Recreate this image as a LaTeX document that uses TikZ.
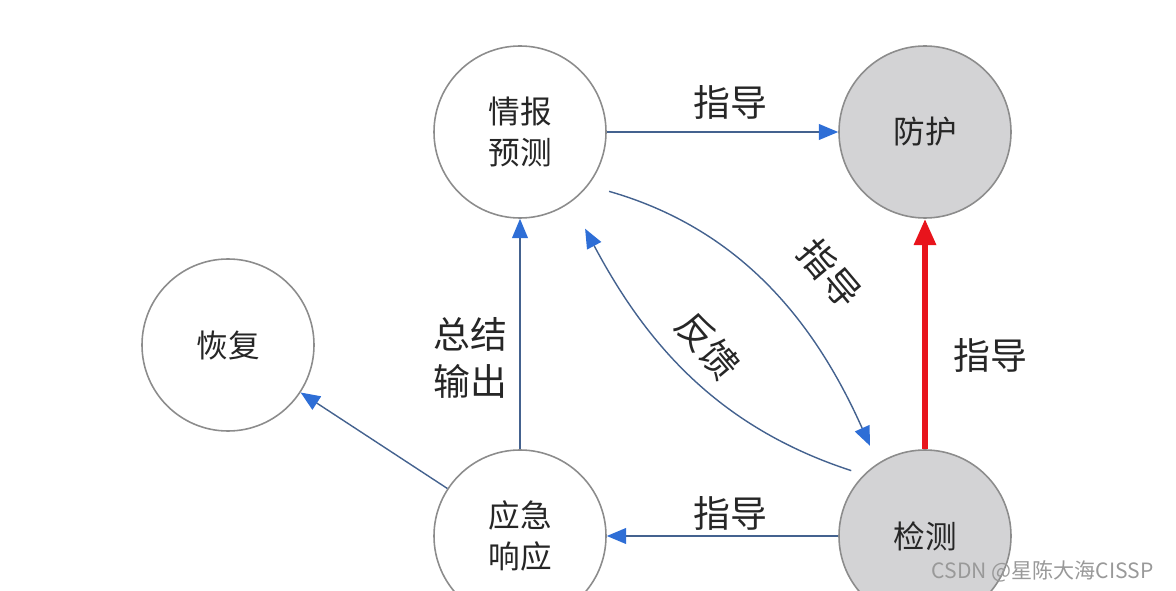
\documentclass[tikz,border=0pt]{standalone}
\usepackage{fontspec}
\setmainfont{Noto Sans CJK SC}
\usepackage{tikz}
\usetikzlibrary{arrows.meta,positioning}
\usepackage{xcolor}
\definecolor{linkblue}{HTML}{44628F}
\definecolor{tipblue}{HTML}{2E6ED6}
\definecolor{ringgray}{HTML}{8C8C8C}
\definecolor{fillgray}{HTML}{D3D3D5}
\definecolor{alarmred}{HTML}{E8141C}

\begin{document}
\begin{tikzpicture}[
  phase/.style={circle,draw=ringgray,line width=0.9pt,minimum size=3.44cm,inner sep=0pt,align=center,font=\fontsize{18}{23}\selectfont,text=black!85},
  active/.style={phase,fill=fillgray},
  lbl/.style={font=\fontsize{21}{27}\selectfont,align=center,text=black!85},
  link/.style={draw=linkblue,line width=0.8pt,-{Triangle[color=tipblue,length=11pt,width=9pt]}}]

\useasboundingbox (0,0) rectangle (23.52,11.80);
\clip (0,0) rectangle (23.52,11.80);

\node[phase] (qb) at (10.40,9.16) {情报\\预测};
\node[active] (fh) at (18.50,9.16) {防护};
\node[phase] (hf) at (4.56,4.90) {恢复};
\node[phase] (yj) at (10.40,1.08) {应急\\响应};
\node[active] (jc) at (18.50,1.08) {检测};

\node[lbl] (l1) at (14.60,9.76) {指导};
\node[lbl] (l2) at (19.80,4.70) {指导};
\node[lbl] (l3) at (14.60,1.54) {指导};
\node[lbl] (l4) at (9.40,4.64) {总结\\输出};
\node[lbl,rotate=-50] (l5) at (16.60,6.34) {指导};
\node[lbl,rotate=-50] (l6) at (14.16,4.88) {反馈};

\draw[link] (qb) -- (fh);
\draw[link] (jc) -- (yj);
\draw[link] (yj) -- (qb);
\draw[link] (yj) -- (hf);
\draw[link,shorten <=0.43cm,shorten >=0.38cm] (qb.-38) to[out=-16,in=114] (jc.123);
\draw[link,shorten <=0.26cm,shorten >=0.6cm] (jc.135) to[out=162,in=-62] (qb.-54);
\draw[alarmred,line width=3.4pt,-{Triangle[length=15pt,width=12pt]}] (jc) -- (fh);

% watermark
\node[anchor=east,font=\fontsize{12}{14}\selectfont,text=black!40] (wm) at (23.20,0.38) {CSDN @星陈大海CISSP};

\end{tikzpicture}
\end{document}
